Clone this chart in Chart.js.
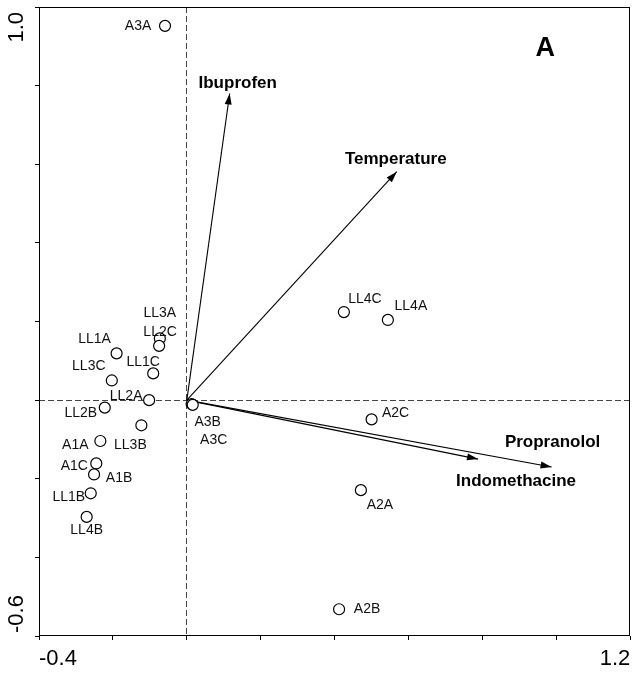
<!DOCTYPE html>
<html lang="en">
<head>
    <meta charset="UTF-8">
    <title>RDA biplot A</title>
    <script src="https://cdn.jsdelivr.net/npm/chart.js@4.4.0/dist/chart.umd.min.js"></script>
    <style>
      body { margin: 0; background: #fff; }
    </style>
</head>
<body>
  <canvas id="myChart" width="637" height="676"></canvas>

<script>
// samples (site scores)
var sampleNames = ['A3A', 'LL3A', 'LL2C', 'LL1A', 'LL1C', 'LL3C', 'LL2A', 'LL2B', 'LL3B', 'A1A', 'A1C',
                   'A1B', 'LL1B', 'LL4B', 'A3B', 'A3C', 'LL4C', 'LL4A', 'A2C', 'A2A', 'A2B'];
var sampleX = [-0.059, -0.073, -0.075, -0.190, -0.091, -0.203, -0.102, -0.222, -0.123, -0.234, -0.245,
               -0.251, -0.260, -0.271, 0.013, 0.016, 0.425, 0.544, 0.500, 0.471, 0.412];
var sampleY = [0.952, 0.157, 0.138, 0.119, 0.068, 0.050, 0.000, -0.019, -0.064, -0.104, -0.161,
               -0.189, -0.237, -0.297, -0.010, -0.012, 0.224, 0.204, -0.049, -0.229, -0.532];

// environmental vectors
var vectorNames = ['Ibuprofen', 'Temperature', 'Propranolol', 'Indomethacine'];
var vectorX = [0.116, 0.568, 0.987, 0.788];
var vectorY = [0.780, 0.581, -0.170, -0.150];

// axis ticks
var xTickValues = [-0.4, 1.2];
var xTickLabels = ['-0.4', '1.2'];
var yTickValues = [-0.6, 1.0];
var yTickLabels = ['-0.6', '1.0'];

// label placement in pixels relative to each mark (layout only)
var sampleLabelOffsets = [[-27, 0], [0, -25], [1, -14], [-22, -14], [-10, -11], [-23, -14], [-23, -4],
                          [-24, 6], [-11, 20], [-25, 4], [-22, 3], [25, 4], [-22, 4], [0, 13], [16, 18],
                          [21, 35], [21, -13], [23, -14], [24, -6], [19, 15], [28, 0]];
var vectorLabelOffsets = [[8, -10], [-1, -12], [1, -25], [38, 22]];

var FONT = '"Liberation Sans", Arial, sans-serif';

var datasets = [{
    label: 'samples',
    data: sampleX.map(function (x, i) { return {x: x, y: sampleY[i]}; }),
    pointRadius: 5.5,
    pointBackgroundColor: '#fff',
    pointBorderColor: '#000',
    pointBorderWidth: 1.2
}];
vectorNames.forEach(function (name, i) {
    datasets.push({
        label: name,
        data: [{x: 0, y: 0}, {x: vectorX[i], y: vectorY[i]}],
        showLine: true,
        borderColor: '#000',
        borderWidth: 1.1,
        pointRadius: 0
    });
});

function zeroLine(ctx) {
    return Math.abs(ctx.tick.value) < 1e-9 ? '#444' : 'rgba(0,0,0,0)';
}

var overlay = {
    id: 'overlay',
    afterDatasetsDraw: function (chart) {
        var ctx = chart.ctx, a = chart.chartArea, ys = chart.scales.y;
        ctx.save();

        // frame
        ctx.strokeStyle = '#000';
        ctx.lineWidth = 1;
        ctx.strokeRect(Math.round(a.left) + 0.5, Math.round(a.top) + 0.5,
                       Math.round(a.right - a.left) - 1, Math.round(a.bottom - a.top) - 1);

        // arrow heads + vector labels
        ctx.fillStyle = '#000';
        vectorNames.forEach(function (name, i) {
            var pts = chart.getDatasetMeta(i + 1).data;
            var p0 = pts[0], p1 = pts[1];
            var ang = Math.atan2(p1.y - p0.y, p1.x - p0.x);
            var L = 11, W = 3.5;
            var bx = p1.x - L * Math.cos(ang), by = p1.y - L * Math.sin(ang);
            ctx.beginPath();
            ctx.moveTo(p1.x, p1.y);
            ctx.lineTo(bx + W * Math.sin(ang), by - W * Math.cos(ang));
            ctx.lineTo(bx - W * Math.sin(ang), by + W * Math.cos(ang));
            ctx.closePath();
            ctx.fill();

            ctx.font = 'bold 17px ' + FONT;
            ctx.textAlign = 'center';
            ctx.textBaseline = 'middle';
            ctx.fillText(name, p1.x + vectorLabelOffsets[i][0], p1.y + vectorLabelOffsets[i][1]);
        });

        // sample labels
        ctx.font = '14px ' + FONT;
        ctx.fillStyle = '#111';
        ctx.textAlign = 'center';
        ctx.textBaseline = 'middle';
        chart.getDatasetMeta(0).data.forEach(function (p, i) {
            ctx.fillText(sampleNames[i], p.x + sampleLabelOffsets[i][0], p.y + sampleLabelOffsets[i][1]);
        });

        // panel letter
        ctx.font = 'bold 27px ' + FONT;
        ctx.fillStyle = '#000';
        ctx.fillText('A', a.right - 85, a.top + 42);

        // y end labels, rotated
        ctx.font = '22px ' + FONT;
        yTickValues.forEach(function (v, i) {
            var py = ys.getPixelForValue(v);
            ctx.save();
            ctx.translate(17, py);
            ctx.rotate(-Math.PI / 2);
            ctx.textBaseline = 'middle';
            if (i === yTickValues.length - 1) {
                ctx.textAlign = 'right';
                ctx.fillText(yTickLabels[i], -5, 0);
            } else {
                ctx.textAlign = 'left';
                ctx.fillText(yTickLabels[i], 3, 0);
            }
            ctx.restore();
        });
        ctx.restore();
    }
};

var ctx = document.getElementById('myChart').getContext('2d');
var myChart = new Chart(ctx, {
    type: 'scatter',
    data: {datasets: datasets},
    options: {
        responsive: false,
        animation: false,
        devicePixelRatio: 1,
        layout: {padding: {top: 7, right: 3, left: 0, bottom: 0}},
        plugins: {legend: {display: false}, tooltip: {enabled: false}},
        scales: {
            x: {
                type: 'linear',
                min: -0.4, max: 1.2,
                afterFit: function (s) { s.height = 40; },
                border: {display: false, dash: [6, 3]},
                grid: {
                    color: zeroLine,
                    lineWidth: 1,
                    drawTicks: true,
                    tickLength: 4,
                    tickColor: '#000'
                },
                ticks: {
                    stepSize: 0.2,
                    autoSkip: false,
                    maxRotation: 0,
                    align: 'inner',
                    padding: 6,
                    color: '#000',
                    font: {family: FONT, size: 22},
                    callback: function (v) {
                        var k = xTickValues.findIndex(function (t) { return Math.abs(t - v) < 1e-6; });
                        return k >= 0 ? xTickLabels[k] : '';
                    }
                }
            },
            y: {
                type: 'linear',
                min: -0.6, max: 1.0,
                afterFit: function (s) { s.width = 39; },
                border: {display: false, dash: [6, 3]},
                grid: {
                    color: zeroLine,
                    lineWidth: 1,
                    drawTicks: true,
                    tickLength: 4,
                    tickColor: '#000'
                },
                ticks: {
                    stepSize: 0.2,
                    display: false
                }
            }
        }
    },
    plugins: [overlay]
});
</script>
</body>
</html>
